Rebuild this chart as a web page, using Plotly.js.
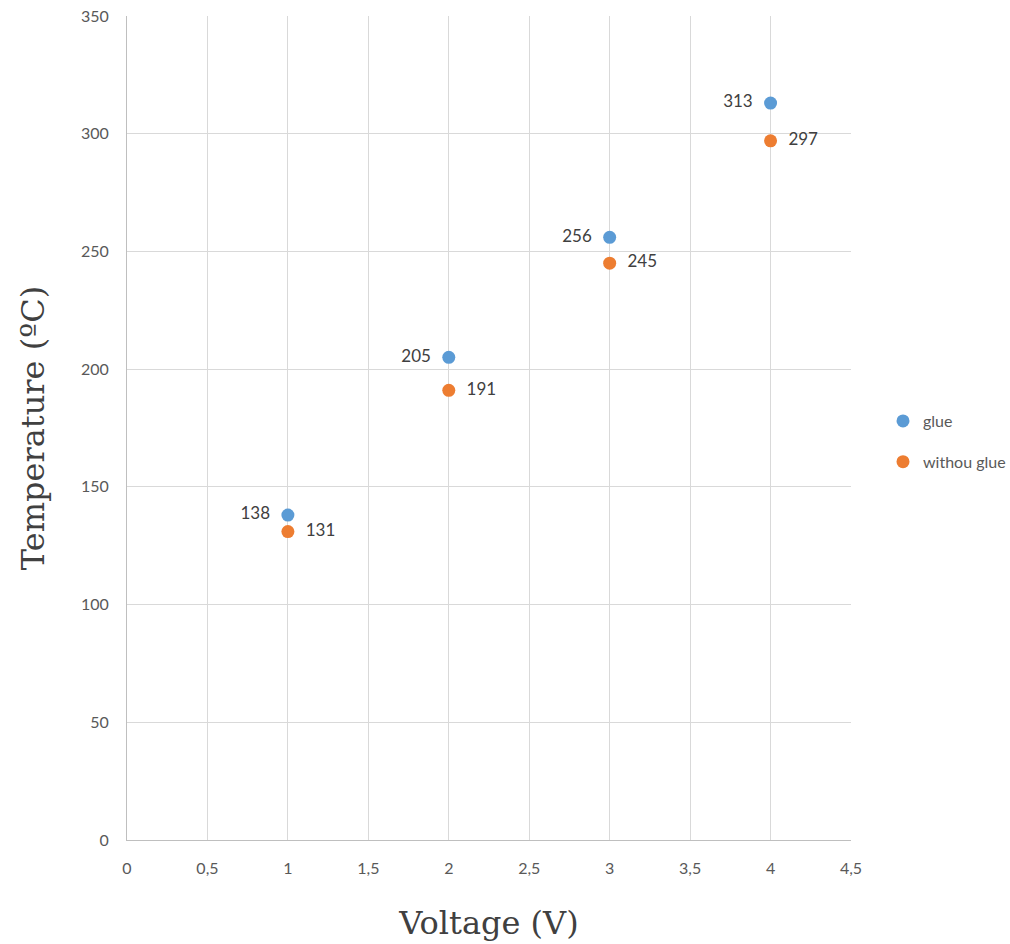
<!DOCTYPE html>
<html><head><meta charset="utf-8">
<script src="https://cdn.plot.ly/plotly-3.0.1.min.js"></script>
<style>body{margin:0;background:#fff}#chart{width:1010px;height:944px}</style>
</head><body><div id="chart"></div>
<script>
const voltage = [1, 2, 3, 4];
const glue = [138, 205, 256, 313];
const withoutGlue = [131, 191, 245, 297];
const seriesNames = ['glue', 'withou glue'];

const tickFont = {family: 'Lato, "Open Sans", sans-serif', size: 16, color: '#595959'};
const labelFont = {family: 'Lato, sans-serif', size: 17, color: '#404040'};
const traces = [
  {x: voltage, y: glue, name: seriesNames[0], legendgroup: 'a', type: 'scatter', mode: 'markers+text',
   marker: {color: '#5B9BD5', size: 13}, text: glue.map(v => v + '\u00a0\u00a0'), textposition: 'middle left',
   textfont: labelFont, cliponaxis: false},
  {x: voltage, y: withoutGlue, name: seriesNames[1], legendgroup: 'b', type: 'scatter', mode: 'markers+text',
   marker: {color: '#ED7D31', size: 13}, text: withoutGlue.map(v => '\u00a0\u00a0' + v), textposition: 'middle right',
   textfont: labelFont, cliponaxis: false}
];
const layout = {
  width: 1010, height: 944,
  margin: {l: 127, r: 159, t: 16, b: 104, autoexpand: false},
  separators: ',.',
  paper_bgcolor: '#fff', plot_bgcolor: '#fff',
  showlegend: true,
  legend: {x: 0, xref: 'paper', y: 0.4836, xanchor: 'left', yanchor: 'middle',
    font: {family: 'Lato, sans-serif', size: 16, color: '#595959'}, tracegroupgap: 17, itemwidth: 30, traceorder: 'grouped'},
  xaxis: {range: [0, 4.5], dtick: 0.5, tick0: 0, showgrid: true, gridcolor: '#d9d9d9', gridwidth: 1,
    zeroline: false, showline: true, linecolor: '#bfbfbf', linewidth: 1, ticks: 'outside', tickcolor: 'rgba(0,0,0,0)', ticklen: 14, tickfont: tickFont,
    title: {text: 'Voltage (V)', font: {family: '"DejaVu Serif", serif', size: 32, color: '#404040'}, standoff: 35}},
  yaxis: {range: [0, 350], dtick: 50, tick0: 0, showgrid: true, gridcolor: '#d9d9d9', gridwidth: 1,
    zeroline: false, showline: true, linecolor: '#bfbfbf', linewidth: 1, ticks: 'outside', tickcolor: 'rgba(0,0,0,0)', ticklen: 14, tickfont: tickFont,
    title: {text: 'Temperature (ºC)', font: {family: '"DejaVu Serif", serif', size: 32, color: '#404040'}, standoff: 26}}
};
layout.legend.x = (883 - 127) / (1010 - 127 - 159);
Plotly.newPlot('chart', traces, layout, {displayModeBar: false, staticPlot: true});
</script></body></html>
